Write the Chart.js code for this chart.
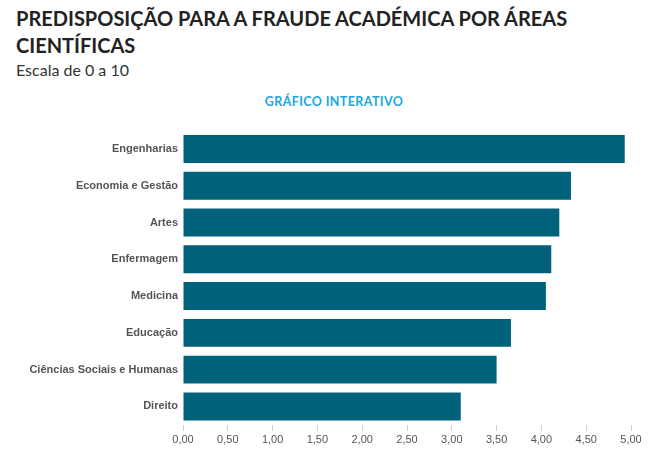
<!DOCTYPE html>
<html>
<head>
<meta charset="utf-8">
<script src="https://cdn.jsdelivr.net/npm/chart.js@4"></script>
<style>
  body { margin: 0; background: #fff; width: 650px; height: 454px; overflow: hidden; position: relative; }
  h1 { position: absolute; left: 16px; top: 5px; margin: 0; width: 600px; font-family: Lato, sans-serif; font-weight: bold; font-size: 20px; line-height: 27px; color: #222; }
  .sub { position: absolute; left: 16px; top: 60px; font-family: Lato, sans-serif; font-weight: 400; font-size: 16px; color: #333; }
  .tag { position: absolute; left: 0; width: 668px; top: 94px; text-align: center; font-family: Lato, sans-serif; font-weight: bold; font-size: 12.5px; color: #1ba7e0; letter-spacing: 0.4px; }
  #wrap { position: absolute; left: 0; top: 119px; width: 650px; height: 335px; }
</style>
</head>
<body>
<h1>PREDISPOSIÇÃO PARA A FRAUDE ACADÉMICA POR ÁREAS CIENTÍFICAS</h1>
<div class="sub">Escala de 0 a 10</div>
<div class="tag">GRÁFICO INTERATIVO</div>
<div id="wrap"><canvas id="chart"></canvas></div>
<script>
const areas = ['Engenharias', 'Economia e Gestão', 'Artes', 'Enfermagem', 'Medicina', 'Educação', 'Ciências Sociais e Humanas', 'Direito'];
const scores = [4.93, 4.33, 4.20, 4.11, 4.05, 3.66, 3.50, 3.10];
const xTicks = [0, 0.5, 1, 1.5, 2, 2.5, 3, 3.5, 4, 4.5, 5];

const ctx = document.getElementById('chart').getContext('2d');
new Chart(ctx, {
    type: 'bar',
    data: {
        labels: areas,
        datasets: [{
            data: scores,
            backgroundColor: '#00627a',
            barPercentage: 0.76,
            categoryPercentage: 1
        }]
    },
    options: {
        indexAxis: 'y',
        responsive: true,
        maintainAspectRatio: false,
        animation: false,
        layout: { padding: { left: 0, right: 19, top: 10, bottom: 4 } },
        plugins: { legend: { display: false }, tooltip: { enabled: false } },
        scales: {
            x: {
                min: 0,
                max: 5,
                afterBuildTicks: axis => { axis.ticks = xTicks.map(v => ({ value: v })); },
                grid: { display: true, drawOnChartArea: false, drawTicks: true, tickLength: 6, color: '#ccc' },
                border: { display: false },
                ticks: {
                    color: '#555',
                    font: { family: 'Liberation Sans, Arial', size: 11 },
                    padding: 3,
                    maxRotation: 0,
                    callback: v => v.toFixed(2).replace('.', ',')
                }
            },
            y: {
                grid: { display: false, drawTicks: false },
                border: { display: false },
                afterFit: axis => { axis.width = 183; },
                ticks: {
                    color: '#555',
                    padding: 5,
                    font: { family: 'Liberation Sans, Arial', size: 11, weight: 'bold' }
                }
            }
        }
    }
});
</script>
</body>
</html>
